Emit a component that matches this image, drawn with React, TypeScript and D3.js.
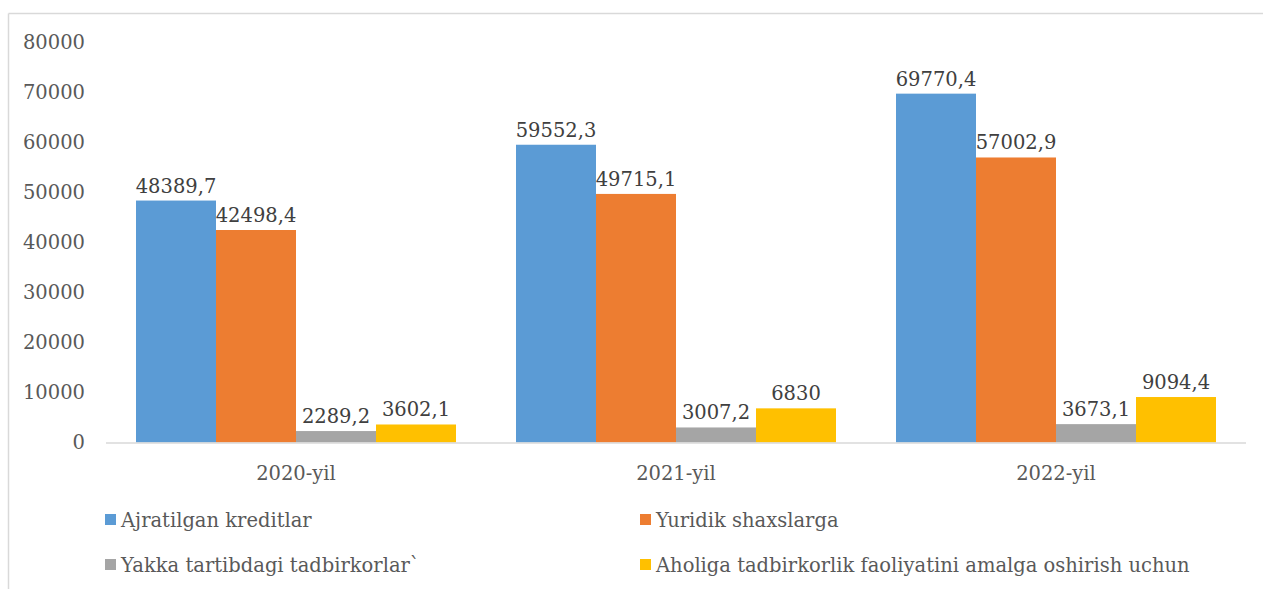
import React from "react";
import * as d3 from "d3";

const categories = ["2020-yil", "2021-yil", "2022-yil"];
const seriesNames = [
  "Ajratilgan kreditlar",
  "Yuridik shaxslarga",
  "Yakka tartibdagi tadbirkorlar`",
  "Aholiga tadbirkorlik faoliyatini amalga oshirish uchun",
];
const ajratilgan = [48389.7, 59552.3, 69770.4];
const yuridik = [42498.4, 49715.1, 57002.9];
const yakka = [2289.2, 3007.2, 3673.1];
const aholiga = [3602.1, 6830, 9094.4];
const seriesValues = [ajratilgan, yuridik, yakka, aholiga];
const colors = ["#5B9BD5", "#ED7D31", "#A5A5A5", "#FFC000"];
const yTicks = [0, 10000, 20000, 30000, 40000, 50000, 60000, 70000, 80000];

const fmt = (v: number) => String(v).replace(".", ",");

export default function App() {
  const W = 1263, H = 589;
  const fs = 19.5;
  const textStyle: React.CSSProperties = { fontFamily: '"DejaVu Serif", serif', fontSize: fs };
  const x0 = d3.scaleBand<string>().domain(categories).range([106, 1246]).padding(0);
  const x1 = d3.scaleBand<number>().domain([0, 1, 2, 3]).range([30, x0.bandwidth() - 30]).padding(0);
  const y = d3.scaleLinear().domain([0, 80000]).range([442.5, 42.5]);

  return (
    <svg width={W} height={H} style={{ position: "absolute", left: 0, top: 0, background: "#fff" }}>
      <rect x={0} y={0} width={W} height={H} fill="#fff" />
      <line x1={8.5} y1={13.5} x2={W} y2={13.5} stroke="#d9d9d9" strokeWidth={1.5} />
      <line x1={8.5} y1={13.5} x2={8.5} y2={H} stroke="#d9d9d9" strokeWidth={1.5} />
      {yTicks.map((t) => (
        <text key={t} x={85} y={y(t)} dy="0.35em" textAnchor="end" style={textStyle} fill="#595959">
          {t}
        </text>
      ))}
      {categories.map((c, ci) => (
        <g key={c} transform={`translate(${x0(c)},0)`}>
          {seriesValues.map((vals, si) => {
            const v = vals[ci];
            const bx = x1(si)!;
            return (
              <g key={si}>
                <rect x={bx} y={y(v)} width={x1.bandwidth()} height={y(0) - y(v)} fill={colors[si]} />
                <text x={bx + x1.bandwidth() / 2} y={y(v) - 8} textAnchor="middle" style={textStyle} fill="#404040">
                  {fmt(v)}
                </text>
              </g>
            );
          })}
          <text x={x0.bandwidth() / 2} y={473} dy="0.35em" textAnchor="middle" style={textStyle} fill="#595959">
            {c}
          </text>
        </g>
      ))}
      <line x1={106} y1={y(0) + 0.5} x2={1246} y2={y(0) + 0.5} stroke="#d9d9d9" strokeWidth={1.5} />
      {seriesNames.map((n, i) => {
        const lx = i % 2 === 0 ? 105 : 640;
        const ly = i < 2 ? 520 : 565;
        return (
          <g key={n}>
            <rect x={lx} y={ly - 6} width={11} height={11} fill={colors[i]} />
            <text x={lx + 16} y={ly} dy="0.35em" style={textStyle} fill="#595959">
              {n}
            </text>
          </g>
        );
      })}
    </svg>
  );
}
